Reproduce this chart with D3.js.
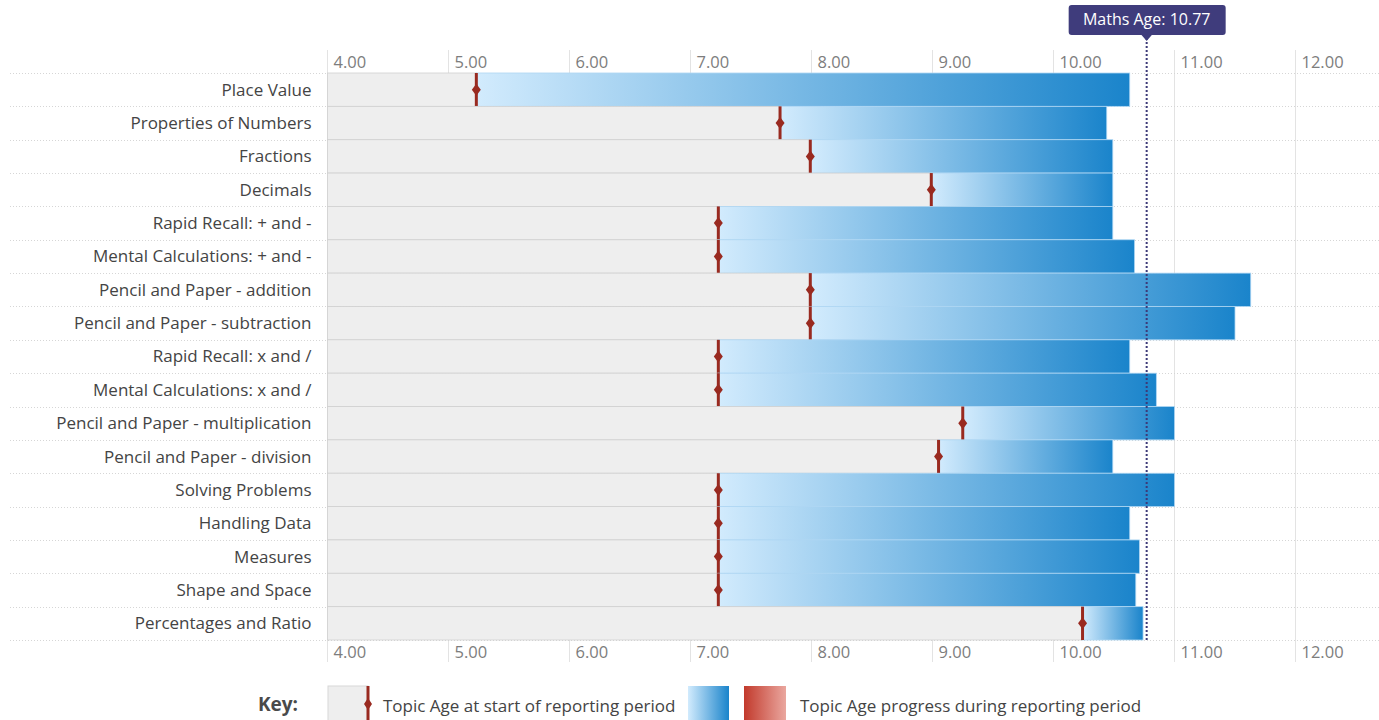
<!DOCTYPE html>
<html>
<head>
<meta charset="utf-8">
<script src="https://cdn.jsdelivr.net/npm/d3@7"></script>
<style>
  body { margin: 0; background: #fff; font-family: "Open Sans", sans-serif; }
  svg { display: block; }
  .tick-label { fill: #7d7d7d; font-size: 16.5px; }
  .cat-label { fill: #444; font-size: 17px; }
  .key-text { fill: #444; font-size: 17px; }
</style>
</head>
<body>
<svg id="chart"></svg>
<script>
var topics = ["Place Value", "Properties of Numbers", "Fractions", "Decimals",
  "Rapid Recall: + and -", "Mental Calculations: + and -", "Pencil and Paper - addition",
  "Pencil and Paper - subtraction", "Rapid Recall: x and /", "Mental Calculations: x and /",
  "Pencil and Paper - multiplication", "Pencil and Paper - division", "Solving Problems",
  "Handling Data", "Measures", "Shape and Space", "Percentages and Ratio"];
var startAge = [5.23, 7.74, 7.99, 8.99, 7.23, 7.23, 7.99, 7.99, 7.23, 7.23, 9.25, 9.05, 7.23, 7.23, 7.23, 7.23, 10.24];
var endAge   = [10.63, 10.44, 10.49, 10.49, 10.49, 10.67, 11.63, 11.50, 10.63, 10.85, 11.00, 10.49, 11.00, 10.63, 10.71, 10.68, 10.74];
var ticks = [4, 5, 6, 7, 8, 9, 10, 11, 12];
var mathsAge = 10.77;

var width = 1379, height = 720;
var padding = { top: 73, bottom: 80, left: 327.5, right: 83.5 };

var data = topics.map(function(t, i){ return { topic: t, start: startAge[i], end: endAge[i], i: i }; });

var svg = d3.select("#chart").attr("width", width).attr("height", height);
var defs = svg.append("defs");

var blue = defs.append("linearGradient").attr("id", "blueGrad")
  .attr("x1", "0%").attr("x2", "100%").attr("y1", "0%").attr("y2", "0%");
blue.append("stop").attr("offset", "0%").attr("stop-color", "#d2ebfd");
blue.append("stop").attr("offset", "100%").attr("stop-color", "#1a84cb");

var red = defs.append("linearGradient").attr("id", "redGrad")
  .attr("x1", "0%").attr("x2", "100%").attr("y1", "0%").attr("y2", "0%");
red.append("stop").attr("offset", "0%").attr("stop-color", "#c23a2c");
red.append("stop").attr("offset", "100%").attr("stop-color", "#eaa79f");

var xscale = d3.scaleLinear().domain([4, 12]).range([padding.left, width - padding.right]);
var yscale = d3.scaleBand().domain(topics).range([padding.top, height - padding.bottom]);
var bh = yscale.bandwidth();
var chartBottom = height - padding.bottom;

//vertical gridlines
svg.append("g").selectAll("line").data(ticks).enter().append("line")
  .attr("x1", function(d){ return xscale(d); }).attr("x2", function(d){ return xscale(d); })
  .attr("y1", 50).attr("y2", chartBottom + 22)
  .attr("stroke", "#e3e3e3").attr("stroke-width", 1);

//horizontal dotted row lines
svg.append("g").selectAll("line").data(d3.range(topics.length + 1)).enter().append("line")
  .attr("x1", 10).attr("x2", width)
  .attr("y1", function(d){ return Math.round(padding.top + d * bh) + 0.5; })
  .attr("y2", function(d){ return Math.round(padding.top + d * bh) + 0.5; })
  .attr("stroke", "#d6d6d6").attr("stroke-dasharray", "1,2");

//tick labels top and bottom
[62, 652].forEach(function(yy){
  svg.append("g").selectAll("text").data(ticks).enter().append("text")
    .attr("class", "tick-label")
    .attr("x", function(d){ return xscale(d) + 6; })
    .attr("y", yy).attr("dy", "0.35em")
    .text(function(d){ return d.toFixed(2); });
});

var rows = svg.append("g").selectAll("g").data(data).enter().append("g")
  .attr("transform", function(d){ return "translate(0," + yscale(d.topic) + ")"; });

//grey background up to start
rows.append("rect")
  .attr("x", xscale(4))
  .attr("width", function(d){ return xscale(d.start) - xscale(4); })
  .attr("height", bh)
  .attr("fill", "#eeeeee")
  .attr("stroke", "#d0d0d0").attr("stroke-width", 0.8);

//progress bar
rows.append("rect")
  .attr("x", function(d){ return xscale(d.start); })
  .attr("width", function(d){ return xscale(d.end) - xscale(d.start); })
  .attr("height", bh)
  .attr("fill", "url(#blueGrad)")
  .attr("stroke", "#aed6f3").attr("stroke-width", 0.8);

//start marker
rows.append("line")
  .attr("x1", function(d){ return xscale(d.start); }).attr("x2", function(d){ return xscale(d.start); })
  .attr("y1", 0).attr("y2", bh)
  .attr("stroke", "#992a20").attr("stroke-width", 3);
rows.append("path")
  .attr("d", "M0,-6L4.5,0L0,6L-4.5,0Z")
  .attr("transform", function(d){ return "translate(" + xscale(d.start) + "," + (bh / 2) + ")"; })
  .attr("fill", "#992a20");

//category labels
rows.append("text")
  .attr("class", "cat-label")
  .attr("x", padding.left - 16)
  .attr("y", bh / 2).attr("dy", "0.35em")
  .attr("text-anchor", "end")
  .text(function(d){ return d.topic; });

//maths age line
var mx = xscale(mathsAge);
svg.append("line")
  .attr("x1", mx).attr("x2", mx).attr("y1", 38).attr("y2", chartBottom)
  .attr("stroke", "#3d3a78").attr("stroke-width", 2).attr("stroke-dasharray", "2,2");
var tip = svg.append("g").attr("transform", "translate(" + mx + ",0)");
tip.append("rect").attr("x", -78).attr("y", 5).attr("width", 157).attr("height", 30).attr("rx", 3)
  .attr("fill", "#3f3c7c");
tip.append("path").attr("d", "M-6,34L6,34L0,41Z").attr("fill", "#3f3c7c");
tip.append("text").attr("x", 0).attr("y", 19).attr("dy", "0.35em").attr("text-anchor", "middle")
  .attr("fill", "#fff").style("font-size", "16px").text("Maths Age: " + mathsAge.toFixed(2));

//Key
var key = svg.append("g").attr("transform", "translate(0,686)");
key.append("text").attr("x", 298).attr("y", 18).attr("text-anchor", "end")
  .attr("fill", "#4a4a4a").style("font-size", "19px").style("font-weight", "bold").attr("dy", "0.35em").text("Key:");
key.append("rect").attr("x", 328).attr("y", 0).attr("width", 40).attr("height", 40)
  .attr("fill", "#eeeeee").attr("stroke", "#d8d8d8");
key.append("line").attr("x1", 368).attr("x2", 368).attr("y1", 0).attr("y2", 40)
  .attr("stroke", "#992a20").attr("stroke-width", 3);
key.append("path").attr("d", "M368,12L372,18L368,24L364,18Z").attr("fill", "#992a20");
key.append("text").attr("class", "key-text").attr("x", 383).attr("y", 20).attr("dy", "0.35em")
  .text("Topic Age at start of reporting period");
key.append("rect").attr("x", 688).attr("y", 0).attr("width", 41).attr("height", 40).attr("fill", "url(#blueGrad)");
key.append("rect").attr("x", 744).attr("y", 0).attr("width", 42).attr("height", 40).attr("fill", "url(#redGrad)");
key.append("text").attr("class", "key-text").attr("x", 800).attr("y", 20).attr("dy", "0.35em")
  .text("Topic Age progress during reporting period");
</script>
</body>
</html>
